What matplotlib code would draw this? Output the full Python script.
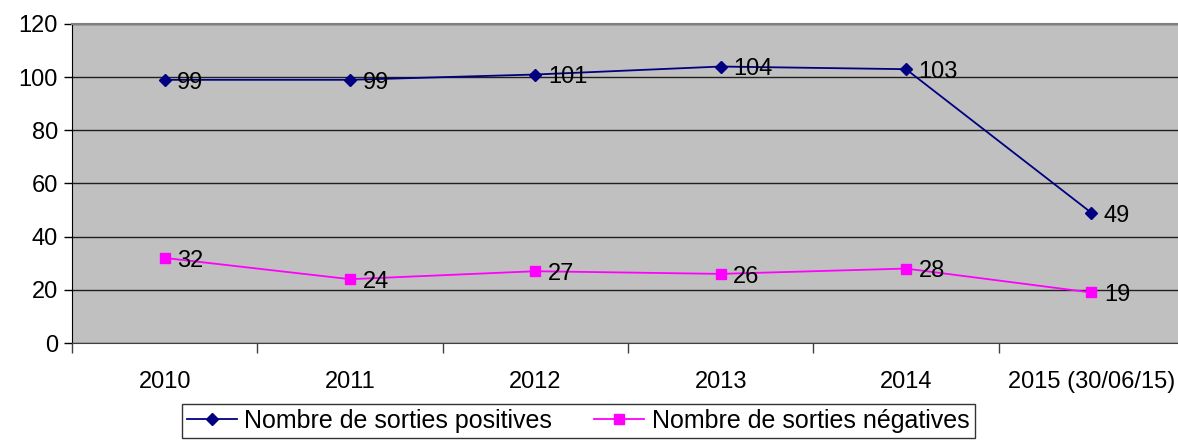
import numpy as np
import matplotlib.pyplot as plt

plt.rcParams['font.family'] = ['Liberation Sans', 'DejaVu Sans']

years = ["2010", "2011", "2012", "2013", "2014", "2015 (30/06/15)"]
positives = [99, 99, 101, 104, 103, 49]
negatives = [32, 24, 27, 26, 28, 19]

W, H = 1178, 440
fig = plt.figure(figsize=(W / 100, H / 100), dpi=100)
# plot area runs slightly past the right edge, as in the reference
ax = fig.add_axes([72 / W, (H - 343) / H, (1184 - 72) / W, (343 - 24) / H])
ax.set_facecolor("#C0C0C0")

x = np.arange(len(years))
fs = 17

ax.plot(x, positives, color="#000080", marker="D", markersize=6.5, lw=1.3,
        label="Nombre de sorties positives")
ax.plot(x, negatives, color="#FF00FF", marker="s", markersize=7, lw=1.3,
        label="Nombre de sorties négatives")

for xi, v in zip(x, positives):
    ax.annotate(str(v), (xi, v), xytext=(9, -2), textcoords="offset points",
                va="center", ha="left", fontsize=fs, color="black")
for xi, v in zip(x, negatives):
    ax.annotate(str(v), (xi, v), xytext=(9, -2), textcoords="offset points",
                va="center", ha="left", fontsize=fs, color="black")

ax.set_ylim(0, 120)
ax.set_xlim(-0.5, len(years) - 0.5)
ax.set_yticks(range(0, 121, 20))
ax.yaxis.grid(True, color="#202020", lw=1)
ax.set_axisbelow(True)

ax.set_xticks(np.arange(-0.5, len(years), 1.0))
ax.set_xticklabels([])
ax.set_xticks(x, minor=True)
ax.set_xticklabels(years, minor=True, fontsize=fs)
ax.tick_params(axis="x", which="major", length=7, width=1, color="#404040", direction="out")
ax.tick_params(axis="x", which="minor", length=0, pad=20)
ax.tick_params(axis="y", length=6, width=1, labelsize=fs, pad=4)

ax.spines["top"].set_color("#808080")
ax.spines["top"].set_linewidth(1.5)
ax.spines["right"].set_visible(False)
ax.spines["bottom"].set_color("#404040")
ax.spines["left"].set_color("black")

leg = fig.legend(loc="lower center", bbox_to_anchor=(578 / W, -0.012), ncol=2,
                 fontsize=18, frameon=True, fancybox=False, edgecolor="black",
                 handlelength=2.0, handletextpad=0.3, columnspacing=1.7,
                 borderpad=0.2, borderaxespad=0.3)
leg.get_frame().set_linewidth(1)

fig.savefig("out.png", dpi=100)
